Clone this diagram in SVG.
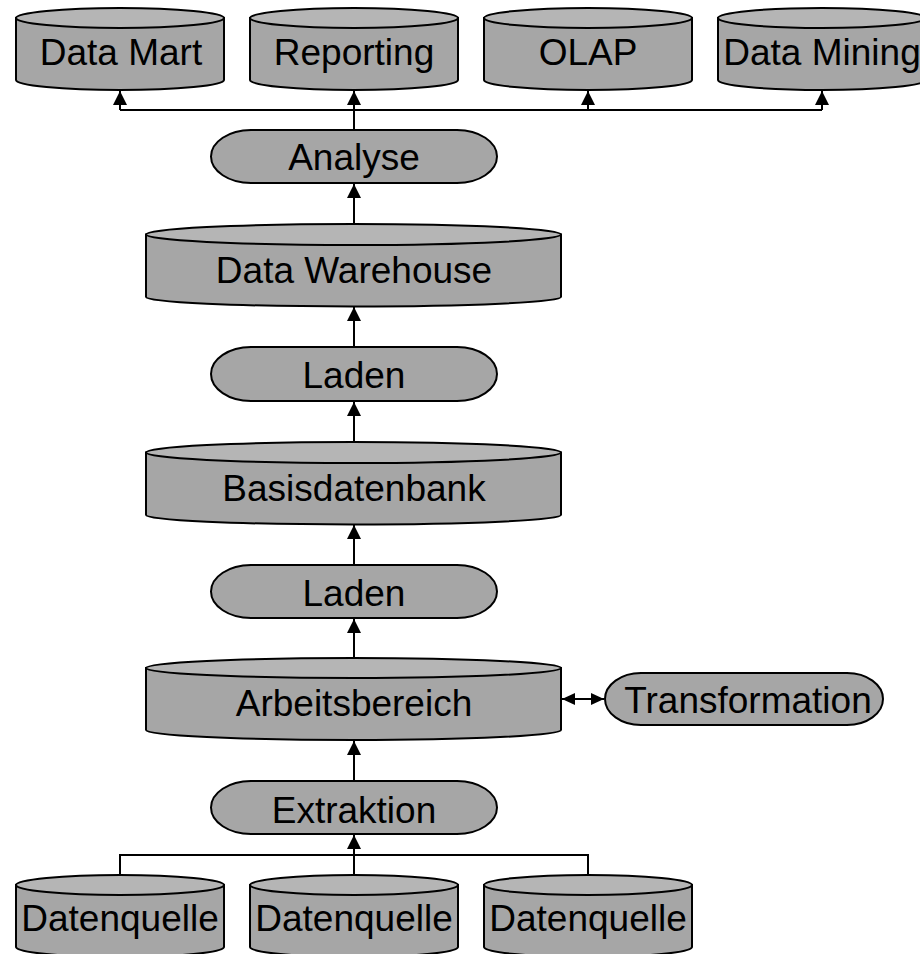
<svg xmlns="http://www.w3.org/2000/svg" width="920" height="954" viewBox="0 0 920 954">
  <style>
    .body { fill: #a6a6a6; stroke: #000; stroke-width: 2; }
    .lid { fill: #b5b5b5; stroke: #000; stroke-width: 2; }
    .proc { fill: #a6a6a6; stroke: #000; stroke-width: 2; }
    .lbl { font-family: "Liberation Sans", Arial, sans-serif; font-size: 37px; fill: #000; text-anchor: middle; }
    .wire { fill: none; stroke: #000; stroke-width: 2; }
    .arr { marker-end: url(#tip); }
  </style>
  <defs>
    <marker id="tip" viewBox="0 0 14 14" refX="14" refY="7" markerWidth="14" markerHeight="14" markerUnits="userSpaceOnUse" orient="auto">
      <path d="M0,0 L14,7 L0,14 z" fill="#000"/>
    </marker>
    <marker id="tipS" viewBox="0 0 13 12" refX="13" refY="6" markerWidth="13" markerHeight="12" markerUnits="userSpaceOnUse" orient="auto-start-reverse">
      <path d="M0,0 L13,6 L0,12 z" fill="#000"/>
    </marker>
  </defs>

  <!-- connectors -->
  <g id="connectors">
    <path class="wire" d="M354,130 V110 M120,110 H822"/>
    <path class="wire arr" d="M120,110 V91"/>
    <path class="wire arr" d="M354,110 V91"/>
    <path class="wire arr" d="M588,110 V91"/>
    <path class="wire arr" d="M822,110 V91"/>
    <path class="wire arr" d="M354,224 V184"/>
    <path class="wire arr" d="M354,347 V307"/>
    <path class="wire arr" d="M354,442 V402"/>
    <path class="wire arr" d="M354,565 V525"/>
    <path class="wire arr" d="M354,658 V619"/>
    <path class="wire arr" d="M354,781 V741"/>
    <path class="wire" d="M120,875 V855 H588 V875"/>
    <path class="wire arr" d="M354,875 V835"/>
    <path class="wire" d="M562,699 H604" marker-start="url(#tipS)" marker-end="url(#tipS)"/>
  </g>

  <!-- output stores -->
  <g id="data-mart">
    <path class="body" d="M16,18 V80 A104,10 0 0 0 224,80 V18 Z"/>
    <ellipse class="lid" cx="120" cy="18" rx="104" ry="10"/>
    <text class="lbl" x="121" y="65">Data Mart</text>
  </g>
  <g id="reporting">
    <path class="body" d="M250,18 V80 A104,10 0 0 0 458,80 V18 Z"/>
    <ellipse class="lid" cx="354" cy="18" rx="104" ry="10"/>
    <text class="lbl" x="354" y="65">Reporting</text>
  </g>
  <g id="olap">
    <path class="body" d="M484,18 V80 A104,10 0 0 0 692,80 V18 Z"/>
    <ellipse class="lid" cx="588" cy="18" rx="104" ry="10"/>
    <text class="lbl" x="588" y="65">OLAP</text>
  </g>
  <g id="data-mining">
    <path class="body" d="M718,18 V80 A104,10 0 0 0 926,80 V18 Z"/>
    <ellipse class="lid" cx="822" cy="18" rx="104" ry="10"/>
    <text class="lbl" x="822" y="65">Data Mining</text>
  </g>

  <!-- analysis step -->
  <g id="analyse">
    <rect class="proc" x="211" y="130" width="286" height="53" rx="40" ry="26.5"/>
    <text class="lbl" x="354" y="170">Analyse</text>
  </g>

  <!-- warehouse -->
  <g id="data-warehouse">
    <path class="body" d="M146,234.5 V297 A207.5,9.5 0 0 0 561,297 V234.5 Z"/>
    <ellipse class="lid" cx="353.5" cy="234.5" rx="207.5" ry="10.5"/>
    <text class="lbl" x="354" y="283">Data Warehouse</text>
  </g>

  <g id="laden-1">
    <rect class="proc" x="211" y="347" width="286" height="54" rx="40" ry="27"/>
    <text class="lbl" x="354" y="388">Laden</text>
  </g>

  <g id="basisdatenbank">
    <path class="body" d="M146,452.5 V515 A207.5,9.5 0 0 0 561,515 V452.5 Z"/>
    <ellipse class="lid" cx="353.5" cy="452.5" rx="207.5" ry="10.5"/>
    <text class="lbl" x="354" y="501">Basisdatenbank</text>
  </g>

  <g id="laden-2">
    <rect class="proc" x="211" y="565" width="286" height="53" rx="40" ry="26.5"/>
    <text class="lbl" x="354" y="606">Laden</text>
  </g>

  <g id="arbeitsbereich">
    <path class="body" d="M146,668 V730 A207.5,10 0 0 0 561,730 V668 Z"/>
    <ellipse class="lid" cx="353.5" cy="668" rx="207.5" ry="10"/>
    <text class="lbl" x="354" y="716">Arbeitsbereich</text>
  </g>

  <g id="transformation">
    <rect class="proc" x="605" y="673" width="278" height="52" rx="36" ry="26"/>
    <text class="lbl" x="748" y="713">Transformation</text>
  </g>

  <g id="extraktion">
    <rect class="proc" x="211" y="781" width="286" height="53" rx="40" ry="26.5"/>
    <text class="lbl" x="354" y="823">Extraktion</text>
  </g>

  <!-- sources -->
  <g id="datenquelle-1">
    <path class="body" d="M16,885 V947 A104,10 0 0 0 224,947 V885 Z"/>
    <ellipse class="lid" cx="120" cy="885" rx="104" ry="10"/>
    <text class="lbl" x="120" y="931">Datenquelle</text>
  </g>
  <g id="datenquelle-2">
    <path class="body" d="M250,885 V947 A104,10 0 0 0 458,947 V885 Z"/>
    <ellipse class="lid" cx="354" cy="885" rx="104" ry="10"/>
    <text class="lbl" x="354" y="931">Datenquelle</text>
  </g>
  <g id="datenquelle-3">
    <path class="body" d="M484,885 V947 A104,10 0 0 0 692,947 V885 Z"/>
    <ellipse class="lid" cx="588" cy="885" rx="104" ry="10"/>
    <text class="lbl" x="588" y="931">Datenquelle</text>
  </g>
</svg>
